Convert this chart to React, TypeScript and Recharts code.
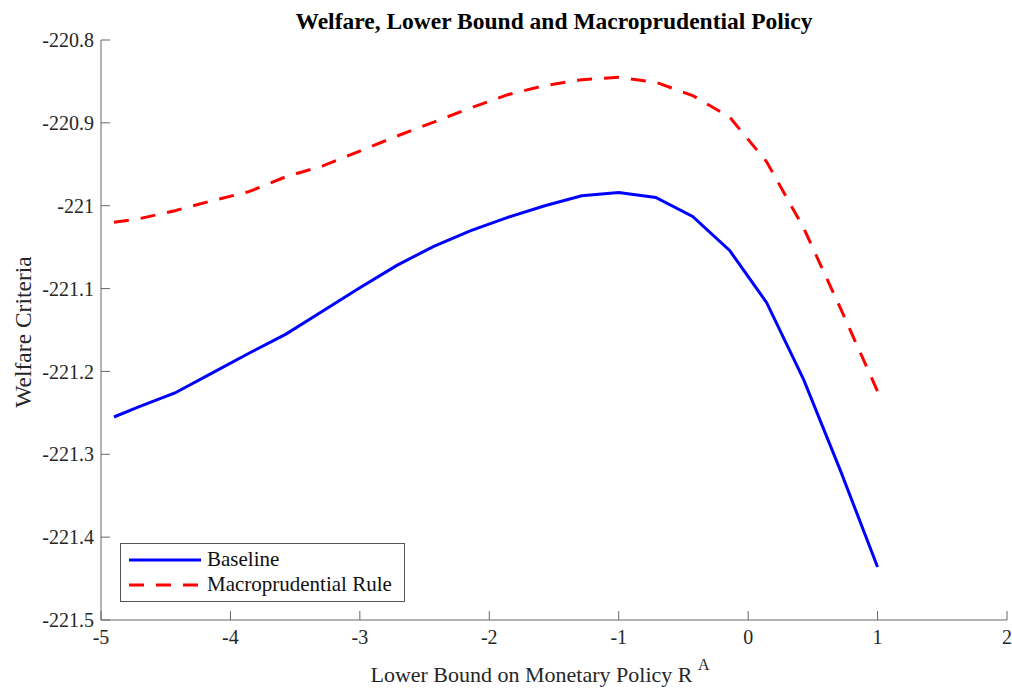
import React from "react";
import { LineChart, Line, XAxis, YAxis } from "recharts";

const xValues = [-4.9, -4.714, -4.429, -4.143, -3.857, -3.571, -3.286, -3, -2.714, -2.429, -2.143, -1.857, -1.571, -1.286, -1, -0.714, -0.429, -0.143, 0.143, 0.429, 0.714, 1];
const baseline = [-221.255, -221.243, -221.226, -221.202, -221.178, -221.155, -221.127, -221.099, -221.072, -221.049, -221.03, -221.014, -221.0, -220.988, -220.984, -220.99, -221.013, -221.054, -221.117, -221.21, -221.32, -221.436];
const macro = [-221.02, -221.016, -221.006, -220.994, -220.983, -220.965, -220.952, -220.934, -220.916, -220.899, -220.882, -220.866, -220.855, -220.848, -220.845, -220.851, -220.867, -220.893, -220.947, -221.027, -221.124, -221.224];
const xTicks = [-5, -4, -3, -2, -1, 0, 1, 2];
const yTicks = [-221.5, -221.4, -221.3, -221.2, -221.1, -221, -220.9, -220.8];
const seriesNames = ["Baseline", "Macroprudential Rule"];

const data = xValues.map((x, i) => ({ x, baseline: baseline[i], macro: macro[i] }));

const FONT = "'Liberation Serif', 'Times New Roman', serif";
const AXIS = "#666666";
const TXT = "#262626";

const LegendBox = () => (
  <div
    style={{
      position: "absolute",
      left: 120,
      top: 543,
      width: 285,
      height: 59,
      border: "1px solid #555",
      background: "#fff",
      fontFamily: FONT,
      fontSize: 21,
      color: "#111",
      boxSizing: "border-box",
      paddingTop: 3,
    }}
  >
    <div style={{ display: "flex", alignItems: "center", height: 25 }}>
      <svg width={80} height={20} style={{ marginLeft: 6 }}>
        <line x1={2} y1={10} x2={74} y2={10} stroke="#0000ff" strokeWidth={3} />
      </svg>
      <span>{seriesNames[0]}</span>
    </div>
    <div style={{ display: "flex", alignItems: "center", height: 25 }}>
      <svg width={80} height={20} style={{ marginLeft: 6 }}>
        <line x1={2} y1={10} x2={74} y2={10} stroke="#ff0000" strokeWidth={3} strokeDasharray="15 12" />
      </svg>
      <span>{seriesNames[1]}</span>
    </div>
  </div>
);

export default function App() {
  return (
    <div style={{ position: "absolute", left: 0, top: 0, width: 1012, height: 688, background: "#fff" }}>
      <LineChart
        width={1012}
        height={688}
        data={data}
        margin={{ top: 40, right: 5, bottom: 0, left: 0 }}
      >
        <XAxis
          dataKey="x"
          type="number"
          domain={[-5, 2]}
          ticks={xTicks}
          interval={0}
          allowDataOverflow
          height={68}
          stroke={AXIS}
          tickSize={-9}
          tickMargin={19}
          tick={{ fill: TXT, fontFamily: FONT, fontSize: 20 }}
          tickFormatter={(v: number) => String(v)}
        />
        <YAxis
          type="number"
          domain={[-221.5, -220.8]}
          ticks={yTicks}
          interval={0}
          allowDataOverflow
          width={101}
          stroke={AXIS}
          tickSize={-9}
          tickMargin={16}
          tick={{ fill: TXT, fontFamily: FONT, fontSize: 20 }}
          tickFormatter={(v: number) => String(Number(v.toFixed(1)))}
        />
        <Line
          type="linear"
          dataKey="baseline"
          name={seriesNames[0]}
          stroke="#0000ff"
          strokeWidth={3}
          dot={false}
          isAnimationActive={false}
        />
        <Line
          type="linear"
          dataKey="macro"
          name={seriesNames[1]}
          stroke="#ff0000"
          strokeWidth={3}
          strokeDasharray="15 12"
          dot={false}
          isAnimationActive={false}
        />
      </LineChart>
      <LegendBox />
      <div
        style={{
          position: "absolute",
          left: 254,
          width: 600,
          top: 8,
          textAlign: "center",
          fontFamily: FONT,
          fontWeight: "bold",
          fontSize: 23.5,
          color: "#000",
          whiteSpace: "nowrap",
        }}
      >
        Welfare, Lower Bound and Macroprudential Policy
      </div>
      <div
        style={{
          position: "absolute",
          left: 240,
          width: 600,
          top: 662,
          textAlign: "center",
          fontFamily: FONT,
          fontSize: 22,
          color: TXT,
          whiteSpace: "nowrap",
        }}
      >
        Lower Bound on Monetary Policy R <sup style={{ fontSize: 16, verticalAlign: "top", position: "relative", top: -6 }}>A</sup>
      </div>
      <div
        style={{
          position: "absolute",
          left: 23,
          top: 332,
          transform: "translate(-50%, -50%) rotate(-90deg)",
          fontFamily: FONT,
          fontSize: 23.5,
          color: TXT,
          whiteSpace: "nowrap",
        }}
      >
        Welfare Criteria
      </div>
    </div>
  );
}
